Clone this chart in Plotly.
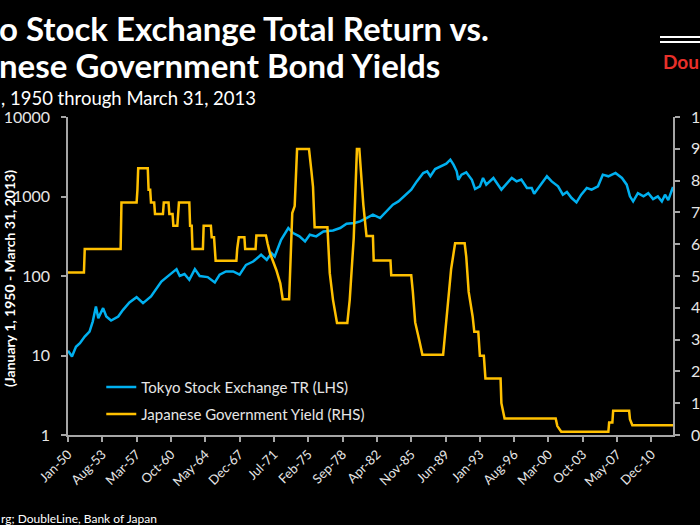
import datetime as dt
import plotly.graph_objects as go

# Tokyo Stock Exchange total return index (left axis, log)
tse_dates = ["1950-01", "1950-06", "1950-11", "1951-04", "1951-10", "1952-04", "1952-08", "1952-12",
             "1953-03", "1953-09", "1954-01", "1954-07", "1955-04", "1955-10", "1956-06", "1957-03",
             "1957-11", "1958-09", "1959-10", "1960-11", "1961-05", "1961-09", "1962-03", "1962-09",
             "1963-04", "1963-10", "1964-08", "1965-05", "1965-11", "1966-07", "1967-04", "1967-12",
             "1968-08", "1969-05", "1970-03", "1970-10", "1971-04", "1971-08", "1972-04", "1973-01",
             "1973-07", "1974-03", "1974-10", "1975-04", "1975-12", "1976-09", "1977-09", "1978-06",
             "1979-02", "1979-12", "1980-07", "1981-03", "1981-11", "1982-08", "1983-04", "1983-12",
             "1984-07", "1985-05", "1985-11", "1986-06", "1987-02", "1987-07", "1987-11", "1988-05",
             "1989-01", "1989-07", "1989-12", "1990-04", "1990-08", "1990-10", "1991-02", "1991-08",
             "1992-03", "1992-07", "1993-01", "1993-05", "1993-09", "1994-06", "1995-04", "1996-05",
             "1996-11", "1997-05", "1997-12", "1998-06", "1998-09", "1999-04", "2000-01", "2000-07",
             "2001-03", "2001-09", "2002-02", "2002-08", "2003-02", "2003-08", "2004-03", "2004-09",
             "2005-05", "2005-11", "2006-06", "2007-03", "2007-11", "2008-05", "2008-09", "2009-01",
             "2009-07", "2010-02", "2010-08", "2011-02", "2011-08", "2012-01", "2012-05", "2012-09",
             "2013-03"]
tse_values = [11.5, 9.7, 12.9, 14.3, 17.3, 20, 26.7, 41.3,
              29.5, 39.4, 30.9, 27.5, 30.9, 37.5, 46.4, 54.2,
              45.5, 55.2, 85.3, 109, 122, 100, 106, 89.6,
              122, 100, 96.9, 82.8, 104, 114, 114, 104,
              138, 152, 185, 160, 194, 176, 286, 401,
              347, 315, 272, 330, 315, 364, 374, 401,
              454, 464, 486, 536, 590, 536, 649, 789,
              867, 1054, 1219, 1550, 1976, 2075, 1795, 2218,
              2400, 2590, 2906, 2513, 2075, 1625, 1883, 2014,
              1625, 1243, 1342, 1710, 1409, 1710, 1219, 1710,
              1550, 1630, 1280, 1280, 1085, 1342, 1795, 1550,
              1342, 1054, 1140, 957, 844, 1054, 1280, 1219,
              1342, 1883, 1795, 1976, 1710, 1409, 1004, 867,
              1100, 1004, 1100, 929, 1004, 867, 1054, 900,
              1318]

# Japanese government bond yield (right axis, %)
jgb_dates = ["1950-01", "1951-09", "1951-10", "1955-07", "1955-08", "1957-03", "1957-04", "1957-05",
             "1958-05", "1958-06", "1958-08", "1958-09", "1959-01", "1959-02", "1959-12", "1960-01",
             "1960-07", "1960-08", "1960-12", "1961-01", "1961-06", "1961-07", "1961-08", "1962-09",
             "1962-10", "1962-12", "1963-01", "1964-02", "1964-03", "1964-12", "1965-01", "1965-04",
             "1965-05", "1965-06", "1967-08", "1967-09", "1967-11", "1968-06", "1968-07", "1969-08",
             "1969-09", "1970-09", "1970-11", "1971-02", "1971-10", "1972-03", "1972-06", "1973-02",
             "1973-06", "1973-09", "1973-12", "1975-03", "1975-06", "1975-08", "1975-10", "1977-02",
             "1977-05", "1977-09", "1978-02", "1979-03", "1979-06", "1979-09", "1979-11", "1980-03",
             "1980-06", "1980-08", "1980-11", "1981-03", "1981-11", "1981-12", "1983-09", "1983-10",
             "1985-11", "1986-01", "1986-04", "1986-09", "1987-01", "1989-03", "1989-06", "1989-09",
             "1990-01", "1990-06", "1991-06", "1991-08", "1991-11", "1992-04", "1992-06", "1992-11",
             "1993-01", "1993-06", "1993-08", "1995-03", "1995-04", "1995-08", "2000-12", "2001-02",
             "2001-07", "2006-06", "2006-07", "2006-11", "2006-12", "2008-08", "2008-09", "2008-12",
             "2013-03"]
jgb_values = [5.11, 5.11, 5.85, 5.85, 7.31, 7.31, 7.71, 8.39,
              8.39, 7.71, 7.71, 7.31, 7.31, 6.95, 6.95, 7.31,
              7.31, 6.95, 6.95, 6.58, 6.58, 6.95, 7.31, 7.31,
              6.58, 6.58, 5.85, 5.85, 6.58, 6.58, 6.22, 6.22,
              5.85, 5.48, 5.48, 5.85, 6.22, 6.22, 5.85, 5.85,
              6.27, 6.27, 6.03, 5.72, 5.19, 4.77, 4.27, 4.27,
              6.98, 7.2, 8.99, 8.99, 8.3, 7.8, 6.53, 6.53,
              5.09, 4.25, 3.52, 3.52, 4.25, 5.3, 6.2, 8.99,
              8.99, 8.29, 7.24, 6.26, 6.26, 5.49, 5.49, 5.02,
              5.02, 4.51, 3.54, 2.99, 2.52, 2.52, 3.4, 4.25,
              5.22, 6.03, 6.03, 5.6, 4.5, 3.72, 3.25, 3.25,
              2.49, 2.49, 1.78, 1.78, 1.0, 0.52, 0.52, 0.28,
              0.10, 0.10, 0.39, 0.39, 0.76, 0.76, 0.5, 0.31,
              0.31]

x_tick_labels = ["Jan-50", "Aug-53", "Mar-57", "Oct-60", "May-64", "Dec-67", "Jul-71", "Feb-75",
                 "Sep-78", "Apr-82", "Nov-85", "Jun-89", "Jan-93", "Aug-96", "Mar-00", "Oct-03",
                 "May-07", "Dec-10"]
left_ticks = [1, 10, 100, 1000, 10000]
right_ticks = list(range(0, 11))


def label_to_date(lbl):
    mon = dt.datetime.strptime(lbl[:3], "%b").month
    yy = int(lbl[-2:])
    year = 1900 + yy if yy >= 50 else 2000 + yy
    return "%d-%02d-01" % (year, mon)


x_tick_vals = [label_to_date(l) for l in x_tick_labels]

FONT = "Lato"
AXIS_COL = "#a6a6a6"
TXT_COL = "#e6e6e6"

fig = go.Figure()

fig.add_trace(go.Scatter(
    x=tse_dates, y=tse_values, mode="lines",
    name="Tokyo Stock Exchange TR (LHS)",
    line=dict(color="#00b0f0", width=2.5),
    legend="legend", yaxis="y"))

fig.add_trace(go.Scatter(
    x=jgb_dates, y=jgb_values, mode="lines",
    name="Japanese Government Yield (RHS)",
    line=dict(color="#ffc000", width=2.5),
    legend="legend2", yaxis="y2"))

legend_style = dict(font=dict(family=FONT, size=15, color=TXT_COL),
                    bgcolor="rgba(0,0,0,0)", itemwidth=30,
                    xanchor="left", yanchor="middle", x=0.055)

axis_common = dict(showgrid=False, zeroline=False, automargin=False,
                   showline=True, linecolor=AXIS_COL, linewidth=1.5,
                   ticks="outside", ticklen=5, tickcolor=AXIS_COL, tickwidth=1.5)

fig.update_layout(
    width=700, height=525,
    paper_bgcolor="black", plot_bgcolor="black",
    margin=dict(l=68, r=27, t=117, b=90, autoexpand=False),
    font=dict(family=FONT, color=TXT_COL),
    showlegend=True,
    legend=dict(legend_style, y=0.15),
    legend2=dict(legend_style, y=0.065),
    xaxis=dict(
        axis_common,
        type="date", range=["1950-01-01", "2013-03-01"],
        tickvals=x_tick_vals, ticktext=x_tick_labels, tickangle=-45,
        tickfont=dict(size=13, color=TXT_COL)),
    yaxis=dict(
        axis_common,
        type="log", range=[0, 4],
        tickvals=left_ticks, ticktext=[str(v) for v in left_ticks],
        tickfont=dict(size=16, color=TXT_COL), ticklabelstandoff=8),
    yaxis2=dict(
        axis_common,
        overlaying="y", side="right", range=[0, 10],
        tickvals=right_ticks, ticktext=[str(v) for v in right_ticks],
        tickfont=dict(size=16, color=TXT_COL), ticklabelstandoff=8),
)

# pixel -> paper helpers for the texts around the plot
PL, PR, PT, PB = 68, 673, 117, 435


def px(x):
    return (x - PL) / (PR - PL)


def py(y):
    return (PB - y) / (PB - PT)


texts = [
    dict(x=px(-3), y=py(28), text="<b>o Stock Exchange Total Return vs.</b>", size=33, color="white"),
    dict(x=px(-3), y=py(65), text="<b>nese Government Bond Yields</b>", size=33, color="white"),
    dict(x=px(-1), y=py(98), text=", 1950 through March 31, 2013", size=18.5, color="white"),
    dict(x=px(-1), y=py(518), text="rg; DoubleLine, Bank of Japan", size=12, color="white"),
    dict(x=px(661), y=py(62), text="<b>Dou</b>", size=19, color="#e8302a"),
]
for t in texts:
    fig.add_annotation(xref="paper", yref="paper", x=t["x"], y=t["y"],
                       xanchor="left", yanchor="middle", showarrow=False,
                       text=t["text"], font=dict(family=FONT, size=t["size"], color=t["color"]))

fig.add_annotation(xref="paper", yref="paper", x=px(9), y=py(279),
                   xanchor="center", yanchor="middle", showarrow=False, textangle=-90,
                   text="<b>(January 1, 1950 - March 31, 2013)</b>",
                   font=dict(family=FONT, size=14, color="white"))

# logo rules at top right
for yy in (37, 42):
    fig.add_shape(type="line", xref="paper", yref="paper",
                  x0=px(660), x1=px(702), y0=py(yy), y1=py(yy),
                  line=dict(color="white", width=2))

fig.write_html("out.html", config={"displayModeBar": False},
               post_script="document.body.style.margin='0';")
